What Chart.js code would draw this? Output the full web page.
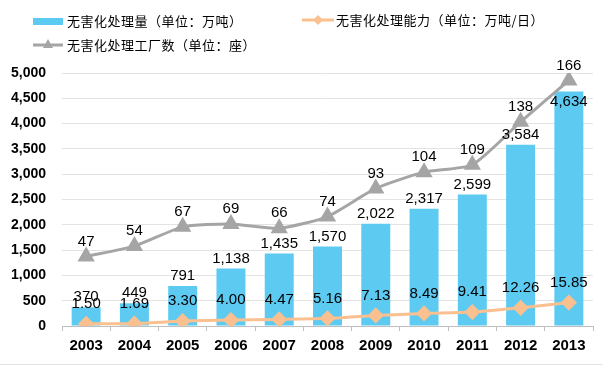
<!DOCTYPE html>
<html>
<head>
<meta charset="utf-8">
<script src="https://cdn.jsdelivr.net/npm/chart.js@4.4.0/dist/chart.umd.min.js"></script>
<style>
  body { margin: 0; background: #fff; }
  #wrap { position: relative; width: 603px; height: 368px; }
  #chart { position: absolute; left: 0; top: 0; }
  .leg { position: absolute; font: 13px "Noto Sans CJK SC", sans-serif; color: #000; line-height: 16px; white-space: nowrap; letter-spacing: 0.5px; }
  .leg svg { position: absolute; }
  #rule { position: absolute; left: 0; top: 364px; width: 603px; height: 1px; background: #E2E2E2; }
</style>
</head>
<body>
<div id="wrap">
  <canvas id="chart" width="603" height="368"></canvas>
  <div class="leg" style="left:33px;top:13px;">
    <svg width="30" height="16" style="left:0;top:0"><rect x="0" y="5" width="30" height="7" fill="#5DCAF2"/></svg>
    <span style="margin-left:34px">无害化处理量（单位：万吨）</span>
  </div>
  <div class="leg" style="left:302px;top:12px;">
    <svg width="32" height="16" style="left:0;top:0"><line x1="0" y1="8" x2="32" y2="8" stroke="#FAC08F" stroke-width="3"/><path d="M16 3 L21 8 L16 13 L11 8 Z" fill="#FAC08F"/></svg>
    <span style="margin-left:34px">无害化处理能力（单位：万吨/日）</span>
  </div>
  <div class="leg" style="left:33px;top:37px;">
    <svg width="30" height="16" style="left:0;top:0"><line x1="0" y1="8" x2="30" y2="8" stroke="#A5A5A5" stroke-width="3"/><path d="M15 2 L20 11 L10 11 Z" fill="#A5A5A5"/></svg>
    <span style="margin-left:34px">无害化处理工厂数（单位：座）</span>
  </div>
  <div id="rule"></div>
</div>
<script>
let years = ['2003', '2004', '2005', '2006', '2007', '2008', '2009', '2010', '2011', '2012', '2013'];
let amount = [370, 449, 791, 1138, 1435, 1570, 2022, 2317, 2599, 3584, 4634];
let capacity = [1.50, 1.69, 3.30, 4.00, 4.47, 5.16, 7.13, 8.49, 9.41, 12.26, 15.85];
let plants = [47, 54, 67, 69, 66, 74, 93, 104, 109, 138, 166];

let valueLabels = {
    id: 'valueLabels',
    afterDatasetsDraw(chart) {
        const ctx = chart.ctx;
        const plantMeta = chart.getDatasetMeta(2);
        ctx.save();
        ctx.font = '15px "Liberation Sans", Arial, sans-serif';
        ctx.fillStyle = '#000';
        ctx.textAlign = 'center';
        ctx.textBaseline = 'middle';
        chart.data.datasets.forEach((ds, i) => {
            const meta = chart.getDatasetMeta(i);
            meta.data.forEach((el, j) => {
                let y = el.y - ds.labelGap;
                // bar label would sit on the plant marker: put it inside the bar
                if (ds.type === 'bar' && Math.abs(y - plantMeta.data[j].y) < 12) {
                    y = el.y + 10;
                }
                ctx.fillText(ds.fmt(ds.data[j]), el.x, y);
            });
        });
        ctx.restore();
    }
};

let ctx = document.getElementById('chart').getContext('2d');

let chart = new Chart(ctx, {
    data: {
        labels: years,
        datasets: [{
            type: 'bar',
            label: '无害化处理量（单位：万吨）',
            data: amount,
            backgroundColor: '#5DCAF2',
            barPercentage: 0.6,
            categoryPercentage: 1,
            yAxisID: 'y',
            order: 3,
            labelGap: 10,
            fmt: v => v.toLocaleString('en-US')
        }, {
            type: 'line',
            label: '无害化处理能力（单位：万吨/日）',
            data: capacity,
            borderColor: '#FAC08F',
            backgroundColor: '#FAC08F',
            borderWidth: 3,
            pointStyle: 'rectRot',
            pointRadius: 6,
            tension: 0.2,
            yAxisID: 'y2',
            order: 2,
            labelGap: 20,
            fmt: v => v.toFixed(2)
        }, {
            type: 'line',
            label: '无害化处理工厂数（单位：座）',
            data: plants,
            borderColor: '#A5A5A5',
            backgroundColor: '#A5A5A5',
            borderWidth: 3,
            pointStyle: 'triangle',
            pointRadius: 7,
            tension: 0.2,
            yAxisID: 'y2',
            order: 1,
            labelGap: 15,
            fmt: v => String(v)
        }]
    },
    options: {
        responsive: false,
        animation: false,
        layout: { padding: { top: 73, right: 5, left: 0, bottom: 0 } },
        plugins: {
            legend: { display: false },
            tooltip: { enabled: false }
        },
        scales: {
            x: {
                offset: true,
                afterFit: s => { s.height = 42; },
                grid: { offset: true, drawOnChartArea: false, tickLength: 5, color: '#BFBFBF' },
                border: { color: '#BFBFBF' },
                ticks: {
                    color: '#000',
                    padding: 6,
                    font: { family: '"Liberation Sans", Arial', size: 15, weight: 'bold' }
                }
            },
            y: {
                min: 0,
                max: 5000,
                afterFit: s => { s.width = 62; },
                grid: { color: '#E3E3E3', drawTicks: false },
                border: { display: false },
                ticks: {
                    stepSize: 500,
                    color: '#000',
                    padding: 16,
                    font: { family: '"Liberation Sans", Arial', size: 14, weight: 'bold' },
                    callback: v => v.toLocaleString('en-US')
                }
            },
            y2: {
                display: false,
                min: 0,
                max: 171
            }
        }
    },
    plugins: [valueLabels]
});
</script>
</body>
</html>
